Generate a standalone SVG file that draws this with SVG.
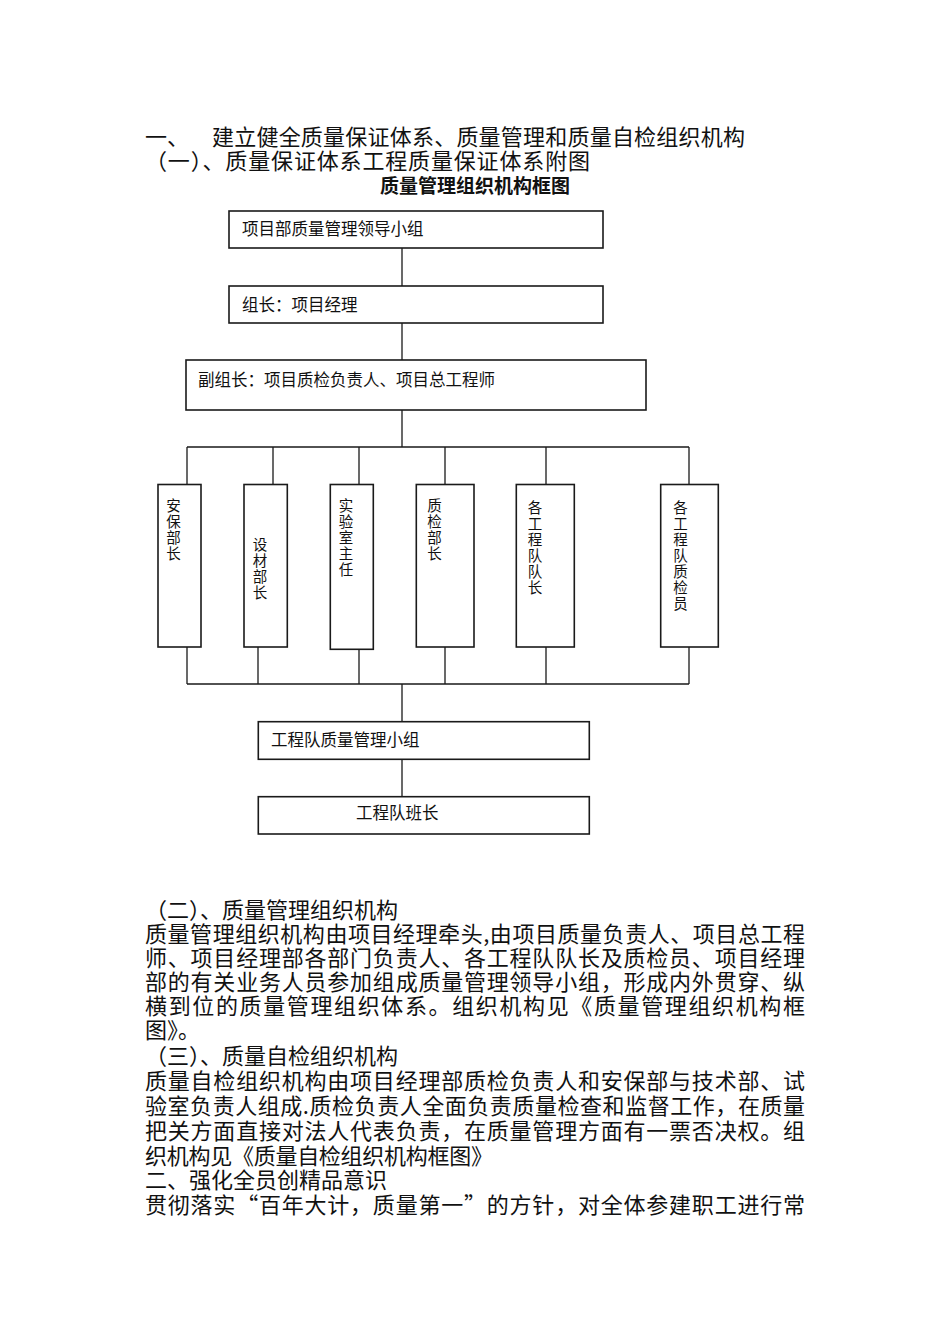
<svg xmlns="http://www.w3.org/2000/svg" width="950" height="1344" viewBox="0 0 950 1344">
<style>
.t{font-family:"Noto Sans CJK SC","Noto Sans",sans-serif;fill:#111;}
.h{font-size:22px;}
.b{font-size:16.5px;}
.v{font-size:14.5px;}
.ti{font-size:19px;font-weight:bold;}
.box{fill:#fff;stroke:#1a1a1a;stroke-width:1.6;}
.ln{stroke:#1a1a1a;stroke-width:1.3;fill:none;}
</style>
<rect width="950" height="1344" fill="#fff"/>
<g id="header">
<text class="t h" x="145" y="145">一、</text>
<text class="t h" x="212" y="145" textLength="533" lengthAdjust="spacing">建立健全质量保证体系、质量管理和质量自检组织机构</text>
<text class="t h" x="145" y="169" textLength="445" lengthAdjust="spacing">（一）、质量保证体系工程质量保证体系附图</text>
<text class="t ti" x="475" y="193" text-anchor="middle">质量管理组织机构框图</text>
</g>
<g id="connectors">
<path class="ln" d="M402 248V286M402 323V360M402 410V447M187 447H689M187 447V484.5M273 447V484.5M359 447V484.5M445 447V484.5M546 447V484.5M689 447V484.5"/>
<path class="ln" d="M187 647V684M258 647V684M359 649V684M445 647V684M546 647V684M689 647V684M187 684H689M402 684V722M402 759V797"/>
</g>
<g id="n1"><rect class="box" x="229" y="211" width="374" height="37"/><text class="t b" x="242" y="235">项目部质量管理领导小组</text></g>
<g id="n2"><rect class="box" x="229" y="286" width="374" height="37"/><text class="t b" x="242" y="311">组长：项目经理</text></g>
<g id="n3"><rect class="box" x="186" y="360" width="460" height="50"/><text class="t b" x="198" y="386">副组长：项目质检负责人、项目总工程师</text></g>
<g id="v1"><rect class="box" x="158" y="484.5" width="43" height="162.5"/><text class="t v" text-anchor="middle"><tspan x="173.5" y="511">安</tspan><tspan x="173.5" dy="16">保</tspan><tspan x="173.5" dy="16">部</tspan><tspan x="173.5" dy="16">长</tspan></text></g>
<g id="v2"><rect class="box" x="244" y="484.5" width="43.3" height="162.5"/><text class="t v" text-anchor="middle"><tspan x="260" y="550">设</tspan><tspan x="260" dy="16">材</tspan><tspan x="260" dy="16">部</tspan><tspan x="260" dy="16">长</tspan></text></g>
<g id="v3"><rect class="box" x="330.3" y="484.5" width="43" height="164.8"/><text class="t v" text-anchor="middle"><tspan x="346" y="511">实</tspan><tspan x="346" dy="16">验</tspan><tspan x="346" dy="16">室</tspan><tspan x="346" dy="16">主</tspan><tspan x="346" dy="16">任</tspan></text></g>
<g id="v4"><rect class="box" x="416.3" y="484.5" width="57.7" height="162.5"/><text class="t v" text-anchor="middle"><tspan x="434.5" y="511">质</tspan><tspan x="434.5" dy="16">检</tspan><tspan x="434.5" dy="16">部</tspan><tspan x="434.5" dy="16">长</tspan></text></g>
<g id="v5"><rect class="box" x="516.3" y="484.5" width="58" height="162.5"/><text class="t v" text-anchor="middle"><tspan x="535" y="513">各</tspan><tspan x="535" dy="16">工</tspan><tspan x="535" dy="16">程</tspan><tspan x="535" dy="16">队</tspan><tspan x="535" dy="16">队</tspan><tspan x="535" dy="16">长</tspan></text></g>
<g id="v6"><rect class="box" x="660.7" y="484.5" width="57.6" height="162.5"/><text class="t v" text-anchor="middle"><tspan x="680.5" y="513">各</tspan><tspan x="680.5" dy="16">工</tspan><tspan x="680.5" dy="16">程</tspan><tspan x="680.5" dy="16">队</tspan><tspan x="680.5" dy="16">质</tspan><tspan x="680.5" dy="16">检</tspan><tspan x="680.5" dy="16">员</tspan></text></g>
<g id="n4"><rect class="box" x="258.3" y="721.7" width="331" height="37.6"/><text class="t b" x="271" y="746">工程队质量管理小组</text></g>
<g id="n5"><rect class="box" x="258.3" y="796.7" width="331" height="37.3"/><text class="t b" x="356" y="819">工程队班长</text></g>
<g id="body">
<text class="t h" x="145" y="918">（二）、质量管理组织机构</text>
<text class="t h" x="145" y="942" textLength="660" lengthAdjust="spacing">质量管理组织机构由项目经理牵头,由项目质量负责人、项目总工程</text>
<text class="t h" x="145" y="966" textLength="660" lengthAdjust="spacing">师、项目经理部各部门负责人、各工程队队长及质检员、项目经理</text>
<text class="t h" x="145" y="990" textLength="660" lengthAdjust="spacing">部的有关业务人员参加组成质量管理领导小组，形成内外贯穿、纵</text>
<text class="t h" x="145" y="1014" textLength="660" lengthAdjust="spacing">横到位的质量管理组织体系。组织机构见《质量管理组织机构框</text>
<text class="t h" x="145" y="1038">图》。</text>
<text class="t h" x="145" y="1064">（三）、质量自检组织机构</text>
<text class="t h" x="145" y="1089" textLength="660" lengthAdjust="spacing">质量自检组织机构由项目经理部质检负责人和安保部与技术部、试</text>
<text class="t h" x="145" y="1114" textLength="660" lengthAdjust="spacing">验室负责人组成.质检负责人全面负责质量检查和监督工作，在质量</text>
<text class="t h" x="145" y="1139" textLength="660" lengthAdjust="spacing">把关方面直接对法人代表负责，在质量管理方面有一票否决权。组</text>
<text class="t h" x="145" y="1164" textLength="348" lengthAdjust="spacing">织机构见《质量自检组织机构框图》</text>
<text class="t h" x="145" y="1188">二、强化全员创精品意识</text>
<text class="t h" x="145" y="1213" textLength="660" lengthAdjust="spacing">贯彻落实“百年大计，质量第一”的方针，对全体参建职工进行常</text>
</g>
</svg>
